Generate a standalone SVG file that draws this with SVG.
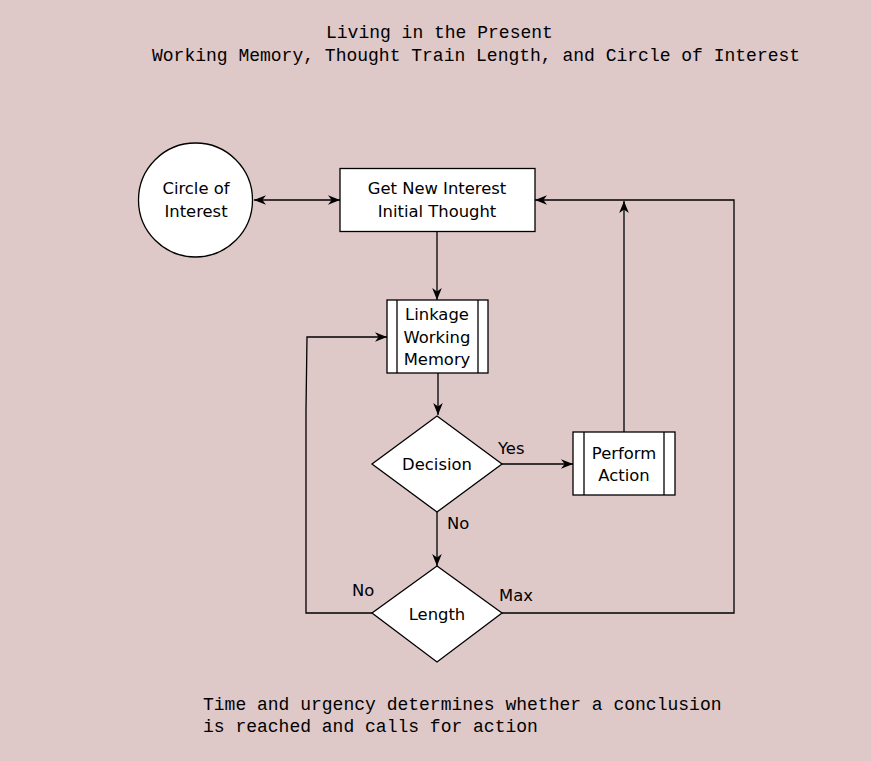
<svg xmlns="http://www.w3.org/2000/svg" width="871" height="761" viewBox="0 0 871 761">
<style>
.shape{fill:#fff;stroke:#000;stroke-width:1.3}
.lbl{font-family:"DejaVu Sans",Verdana,sans-serif;font-size:16.4px;fill:#000;text-anchor:middle}
.el{font-family:"DejaVu Sans",Verdana,sans-serif;font-size:16.4px;fill:#000}
.mono{font-family:"Liberation Mono","Courier New",monospace;font-size:18px;fill:#000}
.edge{fill:none;stroke:#000;stroke-width:1.3}
</style>
<defs>
<marker id="arr" viewBox="0 0 10 8" refX="10" refY="4" markerWidth="12" markerHeight="9.6" markerUnits="userSpaceOnUse" orient="auto-start-reverse">
<path d="M0,0 L10,4 L0,8 L3,4 z" fill="#000"/>
</marker>
</defs>
<rect width="871" height="761" fill="#dec8c8"/>
<text class="mono" x="326" y="38">Living in the Present</text>
<text class="mono" x="152" y="61">Working Memory, Thought Train Length, and Circle of Interest</text>
<text class="mono" x="203" y="710">Time and urgency determines whether a conclusion</text>
<text class="mono" x="203" y="732">is reached and calls for action</text>

<g id="connectors">
<path class="edge" d="M254,200 L340,200" marker-start="url(#arr)" marker-end="url(#arr)"/>
<path class="edge" d="M437,231 L437,300" marker-end="url(#arr)"/>
<path class="edge" d="M438,373 L438,415" marker-end="url(#arr)"/>
<path class="edge" d="M502,464 L573,464" marker-end="url(#arr)"/>
<path class="edge" d="M624,432 L624,201" marker-end="url(#arr)"/>
<path class="edge" d="M437,512 L437,566" marker-end="url(#arr)"/>
<path class="edge" d="M502,613 L734,613 L734,200 L535,200" marker-end="url(#arr)"/>
<path class="edge" d="M372,613 L306,613 L306,410 L307,337 L387,337" marker-end="url(#arr)"/>
<text class="el" x="498" y="454">Yes</text>
<text class="el" x="447" y="529">No</text>
<text class="el" x="352" y="596">No</text>
<text class="el" x="499" y="601">Max</text>
</g>

<g id="circle-of-interest">
<circle class="shape" cx="195.5" cy="200" r="57"/>
<text class="lbl" x="196" y="194">Circle of</text>
<text class="lbl" x="196" y="217">Interest</text>
</g>

<g id="get-new-interest">
<rect class="shape" x="340" y="168.5" width="195" height="63" stroke-width="0.8" stroke="#666"/>
<text class="lbl" x="437" y="194">Get New Interest</text>
<text class="lbl" x="437" y="217">Initial Thought</text>
</g>

<g id="linkage">
<rect class="shape" x="387" y="300" width="101" height="73"/>
<line class="edge" x1="397" y1="300" x2="397" y2="373"/>
<line class="edge" x1="478" y1="300" x2="478" y2="373"/>
<text class="lbl" x="437" y="320">Linkage</text>
<text class="lbl" x="437" y="343">Working</text>
<text class="lbl" x="437" y="365">Memory</text>
</g>

<g id="decision">
<path class="shape" d="M437,416 L502,464 L437,512 L372,464 z"/>
<text class="lbl" x="437" y="470">Decision</text>
</g>

<g id="perform-action">
<rect class="shape" x="573" y="432" width="102" height="63"/>
<line class="edge" x1="584" y1="432" x2="584" y2="495"/>
<line class="edge" x1="664" y1="432" x2="664" y2="495"/>
<text class="lbl" x="624" y="459">Perform</text>
<text class="lbl" x="624" y="481">Action</text>
</g>

<g id="length">
<path class="shape" d="M437,566 L502,613 L437,662 L372,613 z"/>
<text class="lbl" x="437" y="620">Length</text>
</g>
</svg>
